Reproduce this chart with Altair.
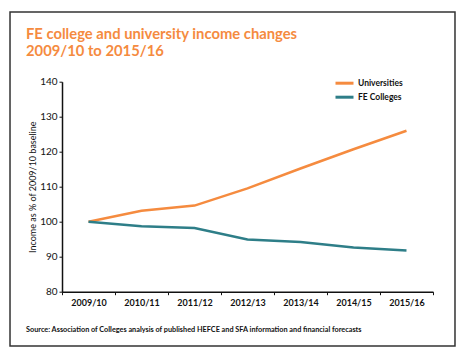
import altair as alt
import pandas as pd

years = ["2009/10", "2010/11", "2011/12", "2012/13", "2013/14", "2014/15", "2015/16"]
universities = [100, 103.1, 104.6, 109.5, 115.2, 120.7, 126.0]
fe_colleges = [100, 98.7, 98.2, 94.9, 94.2, 92.6, 91.8]
series_names = ["Universities", "FE Colleges"]
series_colors = ["#F58B3F", "#2E7E88"]
title_lines = ["FE college and university income changes", "2009/10 to 2015/16"]
y_title = "Income as % of 2009/10 baseline"
source_text = "Source: Association of Colleges analysis of published HEFCE and SFA information and financial forecasts"

rows = []
for y, v in zip(years, universities):
    rows.append({"year": y, "series": series_names[0], "value": v})
for y, v in zip(years, fe_colleges):
    rows.append({"year": y, "series": series_names[1], "value": v})
df = pd.DataFrame(rows)

FONT = "Lato"
W, H = 371, 210

lines = alt.Chart(df).mark_line(strokeWidth=2.5).encode(
    x=alt.X("year:O", sort=years, bandPosition=0.5,
            scale=alt.Scale(type="band", paddingInner=0, paddingOuter=0),
            axis=alt.Axis(title=None, labelAngle=0, tickBand="extent", labelFontSize=9,
                          labelFontWeight="bold", labelColor="#111", labelPadding=4,
                          domainColor="#111", domainWidth=1.5, tickColor="#111",
                          tickSize=3, tickWidth=1)),
    y=alt.Y("value:Q", scale=alt.Scale(domain=[80, 140], nice=False, zero=False),
            axis=alt.Axis(values=[80, 90, 100, 110, 120, 130, 140], title=y_title,
                          titleX=-30, titleY=105, titleAngle=-90, titleAlign="center",
                          titleBaseline="middle", titleFontSize=9, titleFontWeight="normal",
                          titleColor="#111", labelFontSize=10, labelColor="#111",
                          labelPadding=2, domainColor="#111", domainWidth=1.5,
                          tickColor="#111", tickSize=3, grid=False)),
    color=alt.Color("series:N", sort=series_names,
                    scale=alt.Scale(domain=series_names, range=series_colors),
                    legend=alt.Legend(title=None, orient="none", legendX=275, legendY=-6,
                                      symbolType="M-1.5,0H1.5", symbolSize=144,
                                      symbolStrokeWidth=3, labelFontSize=8.5,
                                      labelFontWeight="bold", labelColor="#111",
                                      rowPadding=-4, labelOffset=6)),
)

def text_line(txt, yv, **kw):
    return alt.Chart(pd.DataFrame({"t": [txt]})).mark_text(
        align="left", baseline="alphabetic", font=FONT, **kw
    ).encode(text="t:N", x=alt.value(-36), y=alt.value(yv))

title1 = text_line(title_lines[0], -43, fontSize=14.8, fontWeight="bold", color="#F58B3F")
title2 = text_line(title_lines[1], -25.5, fontSize=14.8, fontWeight="bold", color="#F58B3F")
source = text_line(source_text, 250, fontSize=7.3, fontWeight="bold", color="#111")

border = alt.Chart(pd.DataFrame({"a": [0]})).mark_rect(
    fill=None, stroke="#333", strokeWidth=1.5
).encode(x=alt.value(-52), x2=alt.value(393), y=alt.value(-69.7), y2=alt.value(264.3))

chart = alt.layer(border, lines, title1, title2, source).properties(
    width=W, height=H,
    autosize=alt.AutoSizeParams(type="none"),
    padding={"left": 54, "top": 73.7, "right": 23, "bottom": 56},
).configure(font=FONT).configure_view(stroke=None)

chart.save("out.html", embed_options={"renderer": "svg", "actions": False})
